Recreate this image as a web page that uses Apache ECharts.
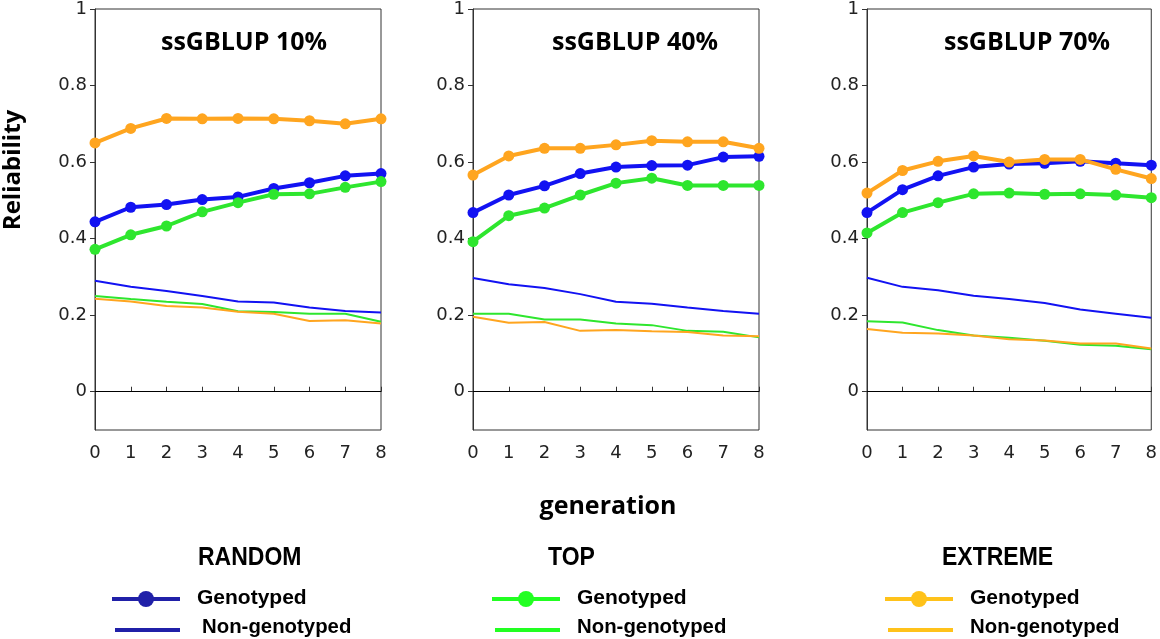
<!DOCTYPE html>
<html><head><meta charset="utf-8">
<script src="https://cdn.jsdelivr.net/npm/echarts@6/dist/echarts.min.js"></script>
<style>html,body{margin:0;padding:0;background:#fff}#c{width:1160px;height:639px}</style>
</head><body><div id="c"></div>
<script>
const generations = [0, 1, 2, 3, 4, 5, 6, 7, 8];
const panelTitles = ['ssGBLUP 10%', 'ssGBLUP 40%', 'ssGBLUP 70%'];
const yTickValues = [0, 0.2, 0.4, 0.6, 0.8, 1];
const groupNames = ['RANDOM', 'TOP', 'EXTREME'];
const typeNames = ['Genotyped', 'Non-genotyped'];

// ssGBLUP 10%
const randomGeno10    = [0.444, 0.482, 0.489, 0.502, 0.509, 0.531, 0.546, 0.564, 0.570];
const topGeno10       = [0.372, 0.410, 0.433, 0.470, 0.494, 0.516, 0.517, 0.534, 0.549];
const extremeGeno10   = [0.650, 0.688, 0.714, 0.713, 0.714, 0.713, 0.708, 0.700, 0.713];
const randomNonGeno10 = [0.290, 0.274, 0.263, 0.250, 0.236, 0.233, 0.220, 0.211, 0.207];
const topNonGeno10    = [0.250, 0.242, 0.235, 0.229, 0.210, 0.208, 0.204, 0.204, 0.183];
const extremeNonGeno10= [0.243, 0.236, 0.224, 0.220, 0.209, 0.204, 0.185, 0.187, 0.178];
// ssGBLUP 40%
const randomGeno40    = [0.468, 0.514, 0.538, 0.570, 0.587, 0.591, 0.592, 0.613, 0.615];
const topGeno40       = [0.392, 0.460, 0.480, 0.514, 0.545, 0.558, 0.539, 0.539, 0.539];
const extremeGeno40   = [0.566, 0.616, 0.636, 0.636, 0.645, 0.656, 0.653, 0.653, 0.636];
const randomNonGeno40 = [0.297, 0.281, 0.271, 0.255, 0.235, 0.230, 0.220, 0.211, 0.204];
const topNonGeno40    = [0.204, 0.204, 0.189, 0.189, 0.178, 0.174, 0.159, 0.157, 0.142];
const extremeNonGeno40= [0.196, 0.180, 0.182, 0.159, 0.161, 0.158, 0.156, 0.147, 0.145];
// ssGBLUP 70%
const randomGeno70    = [0.468, 0.528, 0.564, 0.587, 0.595, 0.597, 0.602, 0.597, 0.592];
const topGeno70       = [0.415, 0.468, 0.494, 0.517, 0.519, 0.516, 0.517, 0.514, 0.507];
const extremeGeno70   = [0.519, 0.578, 0.602, 0.616, 0.600, 0.607, 0.607, 0.581, 0.557];
const randomNonGeno70 = [0.298, 0.274, 0.265, 0.251, 0.242, 0.232, 0.215, 0.204, 0.193];
const topNonGeno70    = [0.184, 0.181, 0.161, 0.147, 0.141, 0.133, 0.123, 0.120, 0.111];
const extremeNonGeno70= [0.164, 0.154, 0.152, 0.147, 0.137, 0.134, 0.126, 0.126, 0.113];

const lineColors = { RANDOM: '#1212f2', TOP: '#2ee62e', EXTREME: '#ffa51f' };
const legendColors = { RANDOM: '#2020a8', TOP: '#22ff22', EXTREME: '#ffc21a' };

const panels = [
  { geno: [randomGeno10, topGeno10, extremeGeno10], non: [randomNonGeno10, topNonGeno10, extremeNonGeno10] },
  { geno: [randomGeno40, topGeno40, extremeGeno40], non: [randomNonGeno40, topNonGeno40, extremeNonGeno40] },
  { geno: [randomGeno70, topGeno70, extremeGeno70], non: [randomNonGeno70, topNonGeno70, extremeNonGeno70] }
];

const gridLefts = [95, 473, 867];
const gridW = 286, gridTop = 7, gridH = 423;
const tickFont = { fontFamily: 'DejaVu Sans', fontSize: 18, color: '#222' };

const grids = [], xAxes = [], yAxes = [], series = [];
panels.forEach((p, k) => {
  grids.push({ left: gridLefts[k], top: gridTop, width: gridW, height: gridH,
    show: true, borderColor: '#333', borderWidth: 1, backgroundColor: 'transparent' });
  xAxes.push({ gridIndex: k, type: 'value', min: 0, max: 8, interval: 1,
    axisLine: { lineStyle: { color: '#333', width: 1 } },
    axisTick: { inside: true, length: 5, lineStyle: { color: '#333' } },
    axisLabel: Object.assign({ margin: 14 }, tickFont),
    splitLine: { show: false } });
  yAxes.push({ gridIndex: k, type: 'value', min: -0.1, max: 1,
    axisLine: { show: true, lineStyle: { color: '#333', width: 1 } },
    axisTick: { show: true, inside: false, length: 5, customValues: yTickValues, lineStyle: { color: '#333' } },
    axisLabel: Object.assign({ margin: 8, customValues: yTickValues,
      formatter: v => (Math.abs(v - 1) < 1e-9 ? '1' : (Math.abs(v) < 1e-9 ? '0' : (+v).toFixed(1))) }, tickFont),
    splitLine: { show: false } });
  [0, 1, 2].forEach(j => {
    const g = groupNames[j];
    const s = {
      name: g + ' ' + typeNames[1] + ' ' + k, type: 'line', xAxisIndex: k, yAxisIndex: k,
      data: generations.map((x, i) => [x, p.non[j][i]]),
      showSymbol: false, symbol: 'none',
      lineStyle: { color: lineColors[g], width: 2 }, z: 2
    };
    if (j === 0) {
      s.markLine = { silent: true, symbol: ['none', 'none'], label: { show: false },
        lineStyle: { color: '#000', width: 1, type: 'solid' }, data: [{ yAxis: 0 }] };
    }
    series.push(s);
  });
  [0, 1, 2].forEach(j => {
    const g = groupNames[j];
    series.push({
      name: g + ' ' + typeNames[0] + ' ' + k, type: 'line', xAxisIndex: k, yAxisIndex: k,
      data: generations.map((x, i) => [x, p.geno[j][i]]),
      symbol: 'circle', symbolSize: 11, showSymbol: true,
      itemStyle: { color: lineColors[g] },
      lineStyle: { color: lineColors[g], width: 4 }, z: 3 + j
    });
  });
});

const graphics = [];
panelTitles.forEach((t, k) => {
  graphics.push({ type: 'text', x: gridLefts[k] + [149, 162, 160][k], y: 43,
    style: { text: t, font: 'bold 25px "Open Sans"', fill: '#000', align: 'center', verticalAlign: 'middle' } });
});
graphics.push({ type: 'text', x: 13, y: 170, rotation: Math.PI / 2,
  style: { text: 'Reliability', font: 'bold 24px "Open Sans"', fill: '#000', align: 'center', verticalAlign: 'middle' } });
graphics.push({ type: 'text', x: 608, y: 507,
  style: { text: 'generation', font: 'bold 25px "Open Sans"', fill: '#000', align: 'center', verticalAlign: 'middle' } });

const legendX = [{ line: 112, head: 198, text: 197 }, { line: 492, head: 548, text: 577 }, { line: 885, head: 942, text: 970 }];
const headFont = 'bold 25px "Liberation Sans"';
const itemFont = 'bold 21px "Liberation Sans"';
groupNames.forEach((g, j) => {
  const L = legendX[j];
  graphics.push({ type: 'text', x: L.head, y: 558, scaleX: 0.92, style: { text: g, font: headFont, fill: '#000', verticalAlign: 'middle' } });
  graphics.push({ type: 'line', shape: { x1: L.line, y1: 599, x2: L.line + 68, y2: 599 }, style: { stroke: legendColors[g], lineWidth: 4 } });
  graphics.push({ type: 'circle', shape: { cx: L.line + 34, cy: 599, r: 8 }, style: { fill: legendColors[g] } });
  graphics.push({ type: 'text', x: L.text, y: 598, style: { text: typeNames[0], font: itemFont, fill: '#000', verticalAlign: 'middle' } });
  graphics.push({ type: 'line', shape: { x1: L.line + 3, y1: 630, x2: L.line + 68, y2: 630 }, style: { stroke: legendColors[g], lineWidth: 4 } });
  graphics.push({ type: 'text', x: L.text + (j === 0 ? 5 : 0), y: 627, scaleX: 0.97, style: { text: typeNames[1], font: itemFont, fill: '#000', verticalAlign: 'middle' } });
});

const chart = echarts.init(document.getElementById('c'), null, { renderer: 'canvas' });
chart.setOption({
  animation: false,
  backgroundColor: '#fff',
  grid: grids, xAxis: xAxes, yAxis: yAxes, series: series,
  graphic: graphics
});
</script></body></html>
